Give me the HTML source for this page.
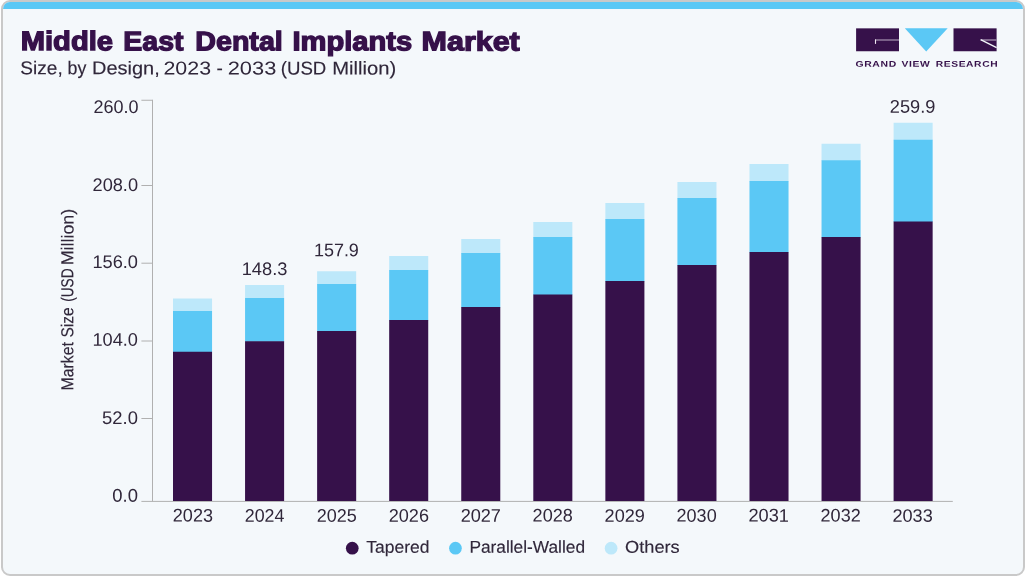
<!DOCTYPE html>
<html lang="en">
<head>
<meta charset="utf-8">
<title>Middle East Dental Implants Market</title>
<style>
html,body{margin:0;padding:0;background:#fff;}
body{width:1025px;height:576px;overflow:hidden;position:relative;font-family:"Liberation Sans",sans-serif;}
#frame{position:absolute;left:1px;top:0;width:1020px;height:572px;border:2px solid #c9c9c9;border-radius:9px;background:#f4f8fb;overflow:hidden;}
#band{position:absolute;left:0;top:0;width:100%;height:6.7px;background:#5bc8f5;}
svg{position:absolute;left:0;top:0;font-family:"Liberation Sans",sans-serif;text-rendering:geometricPrecision;}
</style>
</head>
<body>
<div id="frame"><div id="band"></div></div>
<svg width="1025" height="576" viewBox="0 0 1025 576">
<g stroke="#b0b0b0" stroke-width="1" fill="none">
<path d="M152.5 99.75 V501.4"/>
<path d="M141.4 501.4 H952.8"/>
<path d="M141.4 100.25 H152.5"/>
<path d="M141.4 185.5 H152.5"/>
<path d="M141.4 263.2 H152.5"/>
<path d="M141.4 341.0 H152.5"/>
<path d="M141.4 418.5 H152.5"/>
</g>
<rect x="173.00" y="298.5" width="39.05" height="13.0" fill="#bde8fa"/>
<rect x="173.00" y="311" width="39.05" height="41.25" fill="#5bc8f5"/>
<rect x="173.00" y="351.75" width="39.05" height="149.25" fill="#36114a"/>
<rect x="245.06" y="285" width="39.05" height="13.5" fill="#bde8fa"/>
<rect x="245.06" y="298" width="39.05" height="43.75" fill="#5bc8f5"/>
<rect x="245.06" y="341.25" width="39.05" height="159.75" fill="#36114a"/>
<rect x="317.12" y="271.25" width="39.05" height="13.25" fill="#bde8fa"/>
<rect x="317.12" y="284.0" width="39.05" height="47.5" fill="#5bc8f5"/>
<rect x="317.12" y="331" width="39.05" height="170.00" fill="#36114a"/>
<rect x="389.18" y="256" width="39.05" height="14.5" fill="#bde8fa"/>
<rect x="389.18" y="270" width="39.05" height="50.5" fill="#5bc8f5"/>
<rect x="389.18" y="320" width="39.05" height="181.00" fill="#36114a"/>
<rect x="461.24" y="239" width="39.05" height="14.5" fill="#bde8fa"/>
<rect x="461.24" y="253" width="39.05" height="54.5" fill="#5bc8f5"/>
<rect x="461.24" y="307" width="39.05" height="194.00" fill="#36114a"/>
<rect x="533.30" y="222" width="39.05" height="15.5" fill="#bde8fa"/>
<rect x="533.30" y="237" width="39.05" height="58.0" fill="#5bc8f5"/>
<rect x="533.30" y="294.5" width="39.05" height="206.50" fill="#36114a"/>
<rect x="605.36" y="203" width="39.05" height="16.5" fill="#bde8fa"/>
<rect x="605.36" y="219" width="39.05" height="62.5" fill="#5bc8f5"/>
<rect x="605.36" y="281" width="39.05" height="220.00" fill="#36114a"/>
<rect x="677.42" y="182" width="39.05" height="16.5" fill="#bde8fa"/>
<rect x="677.42" y="198" width="39.05" height="67.5" fill="#5bc8f5"/>
<rect x="677.42" y="265" width="39.05" height="236.00" fill="#36114a"/>
<rect x="749.48" y="164" width="39.05" height="17.5" fill="#bde8fa"/>
<rect x="749.48" y="181" width="39.05" height="71.5" fill="#5bc8f5"/>
<rect x="749.48" y="252" width="39.05" height="249.00" fill="#36114a"/>
<rect x="821.54" y="143.75" width="39.05" height="17.0" fill="#bde8fa"/>
<rect x="821.54" y="160.25" width="39.05" height="77.25" fill="#5bc8f5"/>
<rect x="821.54" y="237" width="39.05" height="264.00" fill="#36114a"/>
<rect x="893.60" y="122.75" width="39.05" height="17.5" fill="#bde8fa"/>
<rect x="893.60" y="139.75" width="39.05" height="82.25" fill="#5bc8f5"/>
<rect x="893.60" y="221.5" width="39.05" height="279.50" fill="#36114a"/>
<circle cx="352.25" cy="548.2" r="6.35" fill="#36114a"/>
<circle cx="455.45" cy="548.2" r="6.35" fill="#5bc8f5"/>
<circle cx="611.1" cy="548.2" r="6.35" fill="#bde8fa"/>
<g fill="#30273a">
<text transform="rotate(0.04 172.8 521.6)" x="172.83" y="521.62" font-size="18.35" textLength="40.19" lengthAdjust="spacingAndGlyphs">2023</text>
<text transform="rotate(0.04 244.8 521.7)" x="244.81" y="521.69" font-size="18.30" textLength="39.64" lengthAdjust="spacingAndGlyphs">2024</text>
<text transform="rotate(0.04 316.8 521.7)" x="316.79" y="521.74" font-size="18.22" textLength="40.07" lengthAdjust="spacingAndGlyphs">2025</text>
<text transform="rotate(0.04 388.7 521.7)" x="388.71" y="521.66" font-size="18.23" textLength="40.24" lengthAdjust="spacingAndGlyphs">2026</text>
<text transform="rotate(0.04 460.6 521.7)" x="460.64" y="521.67" font-size="18.37" textLength="40.33" lengthAdjust="spacingAndGlyphs">2027</text>
<text transform="rotate(0.04 532.6 521.6)" x="532.58" y="521.59" font-size="18.19" textLength="40.20" lengthAdjust="spacingAndGlyphs">2028</text>
<text transform="rotate(0.04 604.6 521.7)" x="604.61" y="521.75" font-size="18.08" textLength="40.23" lengthAdjust="spacingAndGlyphs">2029</text>
<text transform="rotate(0.04 676.6 521.6)" x="676.55" y="521.63" font-size="18.24" textLength="40.13" lengthAdjust="spacingAndGlyphs">2030</text>
<text transform="rotate(0.04 748.5 521.6)" x="748.45" y="521.62" font-size="18.38" textLength="40.48" lengthAdjust="spacingAndGlyphs">2031</text>
<text transform="rotate(0.04 820.6 521.6)" x="820.62" y="521.57" font-size="18.17" textLength="40.06" lengthAdjust="spacingAndGlyphs">2032</text>
<text transform="rotate(0.04 892.4 521.7)" x="892.43" y="521.67" font-size="18.04" textLength="40.30" lengthAdjust="spacingAndGlyphs">2033</text>
<text transform="rotate(0.04 93.6 112.9)" x="93.62" y="112.89" font-size="18.26" textLength="45.01" lengthAdjust="spacingAndGlyphs">260.0</text>
<text transform="rotate(0.04 92.5 190.9)" x="92.53" y="190.94" font-size="18.21" textLength="45.51" lengthAdjust="spacingAndGlyphs">208.0</text>
<text transform="rotate(0.04 92.5 267.9)" x="92.45" y="267.93" font-size="18.38" textLength="45.51" lengthAdjust="spacingAndGlyphs">156.0</text>
<text transform="rotate(0.04 92.4 345.8)" x="92.42" y="345.80" font-size="18.21" textLength="45.51" lengthAdjust="spacingAndGlyphs">104.0</text>
<text transform="rotate(0.04 102.1 423.9)" x="102.12" y="423.95" font-size="18.29" textLength="35.85" lengthAdjust="spacingAndGlyphs">52.0</text>
<text transform="rotate(0.04 112.3 501.8)" x="112.29" y="501.77" font-size="18.52" textLength="25.59" lengthAdjust="spacingAndGlyphs">0.0</text>
<text transform="rotate(0.04 241.7 275.1)" x="241.72" y="275.08" font-size="18.13" textLength="45.67" lengthAdjust="spacingAndGlyphs">148.3</text>
<text transform="rotate(0.04 313.9 256.2)" x="313.88" y="256.20" font-size="18.23" textLength="45.00" lengthAdjust="spacingAndGlyphs">157.9</text>
<text transform="rotate(0.04 889.9 112.7)" x="889.86" y="112.69" font-size="18.32" textLength="45.53" lengthAdjust="spacingAndGlyphs">259.9</text>
<text transform="rotate(0.04 366.3 552.8)" x="366.34" y="552.80" font-size="17.10" textLength="63.02" lengthAdjust="spacingAndGlyphs" stroke="#30273a" stroke-width="0.15" stroke-linejoin="miter" stroke-miterlimit="2.5">Tapered</text>
<text transform="rotate(0.04 469.4 552.8)" x="469.41" y="552.80" font-size="17.10" textLength="115.64" lengthAdjust="spacingAndGlyphs" stroke="#30273a" stroke-width="0.15" stroke-linejoin="miter" stroke-miterlimit="2.5">Parallel-Walled</text>
<text transform="rotate(0.04 625.1 552.8)" x="625.07" y="552.80" font-size="17.10" textLength="54.67" lengthAdjust="spacingAndGlyphs" stroke="#30273a" stroke-width="0.15" stroke-linejoin="miter" stroke-miterlimit="2.5">Others</text>
<text transform="rotate(0.04 270.2 50.2)" y="50.25" font-size="26.80" font-weight="bold" fill="#36114a" stroke-miterlimit="2.5"><tspan x="20.71" textLength="92.35" lengthAdjust="spacingAndGlyphs" stroke="#36114a" stroke-width="1.3">Middle</tspan> <tspan x="123.33" textLength="60.16" lengthAdjust="spacingAndGlyphs" stroke="#36114a" stroke-width="1.3">East</tspan> <tspan x="195.32" textLength="87.44" lengthAdjust="spacingAndGlyphs" stroke="#36114a" stroke-width="1.3">Dental</tspan> <tspan x="292.41" textLength="119.72" lengthAdjust="spacingAndGlyphs" stroke="#36114a" stroke-width="1.3">Implants</tspan> <tspan x="421.62" textLength="98.16" lengthAdjust="spacingAndGlyphs" stroke="#36114a" stroke-width="1.3">Market</tspan></text>
<text transform="rotate(0.04 208.3 74.5)" y="74.45" font-size="18.60" stroke-miterlimit="2.5"><tspan x="20.38" textLength="42.31" lengthAdjust="spacingAndGlyphs" stroke="#30273a" stroke-width="0.15">Size,</tspan> <tspan x="67.50" textLength="18.77" lengthAdjust="spacingAndGlyphs" stroke="#30273a" stroke-width="0.15">by</tspan> <tspan x="92.09" textLength="67.70" lengthAdjust="spacingAndGlyphs" stroke="#30273a" stroke-width="0.15">Design,</tspan> <tspan x="163.47" textLength="47.63" lengthAdjust="spacingAndGlyphs">2023</tspan> <tspan x="216.43" textLength="6.35" lengthAdjust="spacingAndGlyphs" stroke="#30273a" stroke-width="0.15">-</tspan> <tspan x="227.72" textLength="48.62" lengthAdjust="spacingAndGlyphs">2033</tspan> <tspan x="280.76" textLength="45.56" lengthAdjust="spacingAndGlyphs" stroke="#30273a" stroke-width="0.15">(USD</tspan> <tspan x="332.23" textLength="63.99" lengthAdjust="spacingAndGlyphs" stroke="#30273a" stroke-width="0.15">Million)</tspan></text>
<text transform="translate(73.25 390.46) rotate(-89.95)" font-size="17.30" stroke-miterlimit="2.5"><tspan x="0.00" textLength="48.34" lengthAdjust="spacingAndGlyphs" stroke="#30273a" stroke-width="0.15">Market</tspan> <tspan x="52.97" textLength="29.99" lengthAdjust="spacingAndGlyphs" stroke="#30273a" stroke-width="0.15">Size</tspan> <tspan x="88.64" textLength="33.49" lengthAdjust="spacingAndGlyphs" stroke="#30273a" stroke-width="0.15">(USD</tspan> <tspan x="125.12" textLength="56.61" lengthAdjust="spacingAndGlyphs" stroke="#30273a" stroke-width="0.15">Million)</tspan></text>
<text transform="rotate(0.04 926.8 66.8)" y="66.79" font-size="8.30" font-weight="bold" fill="#36114a" stroke-miterlimit="2.5"><tspan x="855.47" textLength="41.33" lengthAdjust="spacingAndGlyphs" letter-spacing="0.5">GRAND</tspan> <tspan x="901.50" textLength="28.90" lengthAdjust="spacingAndGlyphs" letter-spacing="0.5">VIEW</tspan> <tspan x="935.71" textLength="62.49" lengthAdjust="spacingAndGlyphs" letter-spacing="0.5">RESEARCH</tspan></text>
</g>
<g fill="#36114a">
<rect x="856.1" y="28.35" width="42.9" height="22.9"/>
<rect x="953.5" y="28.35" width="43.1" height="22.9"/>
</g>
<path d="M904.8 28.35 H947.7 L926.2 51.6 Z" fill="#5bc8f5"/>
<path d="M875.1 40 H899" stroke="#a08cab" stroke-width="1.3" fill="none"/><path d="M875.5 39.4 V43.9" stroke="#efe9f2" stroke-width="1.1" fill="none"/>
<path d="M996.6 40 H980.8" stroke="#a08cab" stroke-width="1.4" fill="none"/>
<path d="M980.6 39.6 L996.6 47.6" stroke="#f4f8fb" stroke-width="1.3" fill="none"/>
</svg>
</body>
</html>
